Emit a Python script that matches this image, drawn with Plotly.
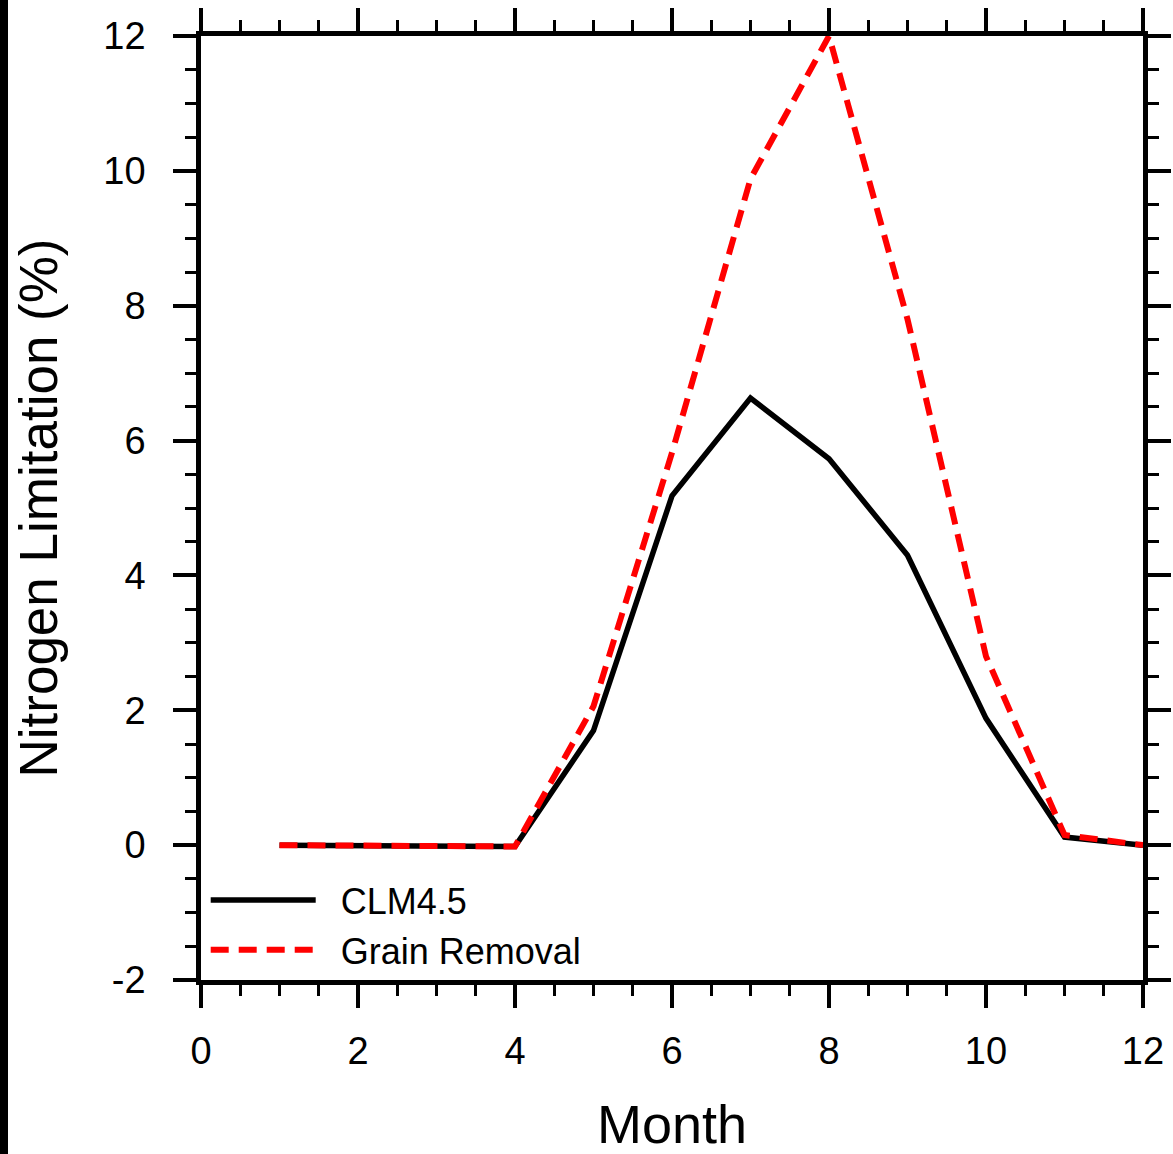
import plotly.graph_objects as go

months = [1, 2, 3, 4, 5, 6, 7, 8, 9, 10, 11, 12]
clm45 = [0.0, 0.0, 0.0, -0.02, 1.7, 5.18, 6.63, 5.73, 4.3, 1.88, 0.12, 0.0]
grain_removal = [0.0, 0.0, 0.0, -0.02, 2.06, 5.82, 9.88, 12.0, 7.8, 2.8, 0.15, 0.0]

x_ticks = [0, 2, 4, 6, 8, 10, 12]
y_ticks = [-2, 0, 2, 4, 6, 8, 10, 12]

W, H = 1173, 1154
L, R, T, B = 201, 30, 36, 174
pw, ph = W - L - R, H - T - B

fig = go.Figure()
fig.add_trace(go.Scatter(x=months, y=clm45, mode="lines", name="\u00a0\u00a0CLM4.5",
                         line=dict(color="black", width=5.5)))
fig.add_trace(go.Scatter(x=months, y=grain_removal, mode="lines", name="\u00a0\u00a0Grain Removal",
                         line=dict(color="#ff0000", width=6, dash="18px,10px")))

font = "Liberation Sans, Arial, Helvetica, sans-serif"
axis_common = dict(
    showgrid=False, zeroline=False, showline=True, linecolor="black", linewidth=4.5,
    mirror="ticks", ticks="outside", ticklen=23, tickwidth=4, tickcolor="black",
    tickfont=dict(family=font, size=38, color="black"),
    minor=dict(ticks="outside", ticklen=11, tickwidth=2.5, tickcolor="black", dtick=0.5, showgrid=False),
)
fig.update_xaxes(range=[0, 12], tickvals=x_ticks, ticktext=[str(v) for v in x_ticks],
                 ticklabelstandoff=11,
                 title=dict(text="Month", font=dict(family=font, size=54, color="black"), standoff=38),
                 **axis_common)
fig.update_yaxes(range=[-2, 12], tickvals=y_ticks, ticktext=[str(v) for v in y_ticks],
                 ticklabelstandoff=20,
                 title=dict(text="Nitrogen Limitation (%)", font=dict(family=font, size=53, color="black"), standoff=30),
                 **axis_common)

# black bar on the left edge of the image
fig.add_shape(type="rect", xref="paper", yref="paper",
              x0=(0 - L) / pw, x1=(8 - L) / pw, y0=(ph + T - H) / ph - 0.01, y1=(ph + T) / ph + 0.01,
              fillcolor="black", line=dict(width=0), layer="above")

fig.update_layout(
    width=W, height=H,
    margin=dict(l=L, r=R, t=T, b=B, autoexpand=False),
    paper_bgcolor="white", plot_bgcolor="white",
    showlegend=True,
    legend=dict(x=0.005, y=0.0, xanchor="left", yanchor="bottom",
                bgcolor="rgba(0,0,0,0)", itemwidth=105,
                font=dict(family=font, size=36, color="black"),
                tracegroupgap=0),
)

fig.write_html("out.html", config={"displayModeBar": False},
               post_script="document.body.style.margin='0';document.body.style.overflow='hidden';")
